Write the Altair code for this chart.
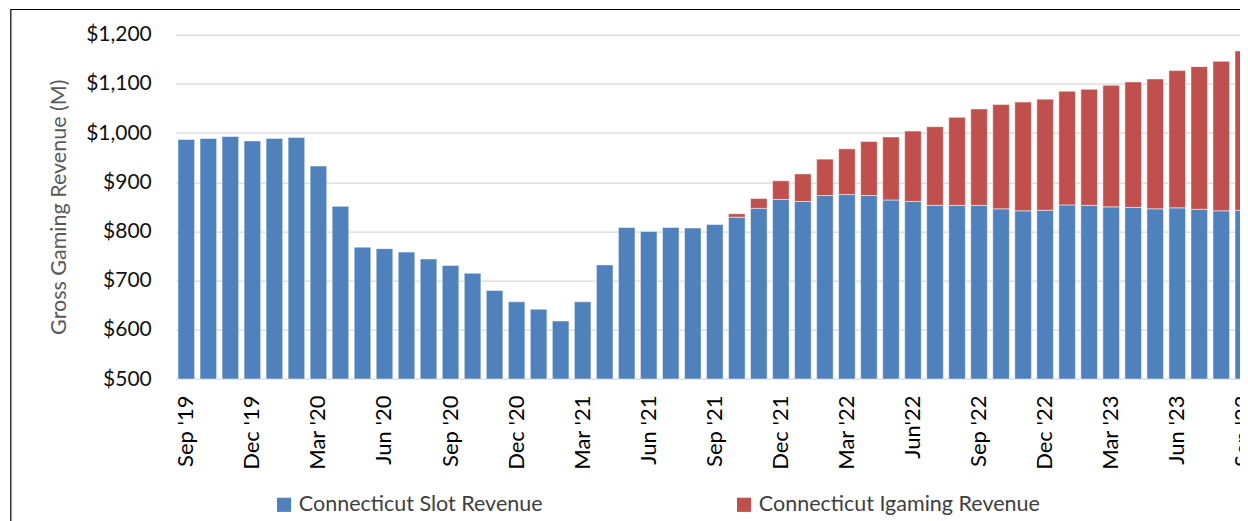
import altair as alt
import pandas as pd

SLOT_NAME = "Connecticut Slot Revenue"
IG_NAME = "Connecticut Igaming Revenue"

months = [
    "Sep '19", "Oct '19", "Nov '19", "Dec '19", "Jan '20", "Feb '20", "Mar '20",
    "Apr '20", "May '20", "Jun '20", "Jul '20", "Aug '20", "Sep '20", "Oct '20",
    "Nov '20", "Dec '20", "Jan '21", "Feb '21", "Mar '21", "Apr '21", "May '21",
    "Jun '21", "Jul '21", "Aug '21", "Sep '21", "Oct '21", "Nov '21", "Dec '21",
    "Jan '22", "Feb '22", "Mar '22", "Apr '22", "May '22", "Jun'22", "Jul '22",
    "Aug '22", "Sep '22", "Oct '22", "Nov '22", "Dec '22", "Jan '23", "Feb '23",
    "Mar '23", "Apr '23", "May '23", "Jun '23", "Jul '23", "Aug '23", "Sep '23",
]

slot = [
    987, 989, 993, 984, 989, 991, 933,
    851, 768, 765, 758, 744, 731, 715,
    680, 657, 642, 618, 657, 732, 808,
    800, 808, 807, 814, 829, 847, 865,
    861, 873, 875, 873, 864, 861, 853,
    853, 853, 846, 842, 843, 854, 853,
    850, 849, 846, 848, 845, 842, 843,
]

igaming = [
    0, 0, 0, 0, 0, 0, 0,
    0, 0, 0, 0, 0, 0, 0,
    0, 0, 0, 0, 0, 0, 0,
    0, 0, 0, 0, 7, 20, 38,
    56, 74, 93, 110, 128, 143, 160,
    179, 196, 212, 221, 226, 231, 236,
    247, 255, 264, 279, 290, 304, 324,
]

tick_months = months[::3]
y_ticks = [500, 600, 700, 800, 900, 1000, 1100, 1200]

rows = []
for m, s, g in zip(months, slot, igaming):
    rows.append({"month": m, "series": SLOT_NAME, "value": s, "ord": 0})
    if g > 0:
        rows.append({"month": m, "series": IG_NAME, "value": g, "ord": 1})
df = pd.DataFrame(rows)

FONT = "Lato"

bars = alt.Chart(df).mark_bar(stroke="white", strokeWidth=0.5).encode(
    x=alt.X(
        "month:N",
        sort=months,
        scale=alt.Scale(domain=months, range=[0, 1079], paddingInner=0.246, paddingOuter=0.123),
        axis=alt.Axis(
            values=tick_months, labelAngle=-90, labelPadding=16, ticks=False,
            domain=False, grid=False, title=None, labelFontSize=22,
            labelColor="#000000", labelFont=FONT, labelOverlap=False,
        ),
    ),
    y=alt.Y(
        "value:Q",
        stack="zero",
        scale=alt.Scale(domain=[500, 1200], clamp=True, nice=False, zero=False),
        axis=alt.Axis(
            values=y_ticks, format="$,.0f", ticks=False, domain=False,
            labelPadding=24, labelFontSize=21, labelFont=FONT, labelColor="#111111",
            grid=True, gridColor="#D9D9D9", gridWidth=1.3,
            title="Gross Gaming Revenue (M)", titleFont=FONT, titleFontSize=21.5,
            titleFontWeight="normal", titleColor="#595959", titleAngle=-90,
            titleX=-116, titleY=172, titleAlign="center", titleBaseline="middle",
        ),
    ),
    color=alt.Color(
        "series:N",
        scale=alt.Scale(domain=[SLOT_NAME, IG_NAME], range=["#4F81BD", "#C0504D"]),
        legend=alt.Legend(
            title=None, orient="none", legendX=98, legendY=459,
            direction="horizontal", columnPadding=190, symbolType="square",
            symbolSize=200, symbolStrokeWidth=0, symbolOpacity=1, labelOffset=4,
            labelFont=FONT, labelFontSize=21.5, labelColor="#404040", labelLimit=400,
        ),
    ),
    order=alt.Order("ord:Q", sort="ascending"),
)

frame_df = pd.DataFrame({"k": [0]})
left_border = alt.Chart(frame_df).mark_rule(color="#000000", strokeWidth=1.2).encode(
    x=alt.value(-164.5), y=alt.value(-25.5), y2=alt.value(600)
)
top_border = alt.Chart(frame_df).mark_rule(color="#000000", strokeWidth=1.2).encode(
    x=alt.value(-165), x2=alt.value(1200), y=alt.value(-25.2)
)

chart = alt.layer(bars, left_border, top_border).properties(
    width=1064.7,
    height=344.3,
    autosize=alt.AutoSizeParams(type="none"),
    padding={"left": 167.3, "top": 26.7, "right": 0, "bottom": 142},
    background="white",
).configure_view(stroke=None)

chart.save("out.html", embed_options={"renderer": "svg", "actions": False})
